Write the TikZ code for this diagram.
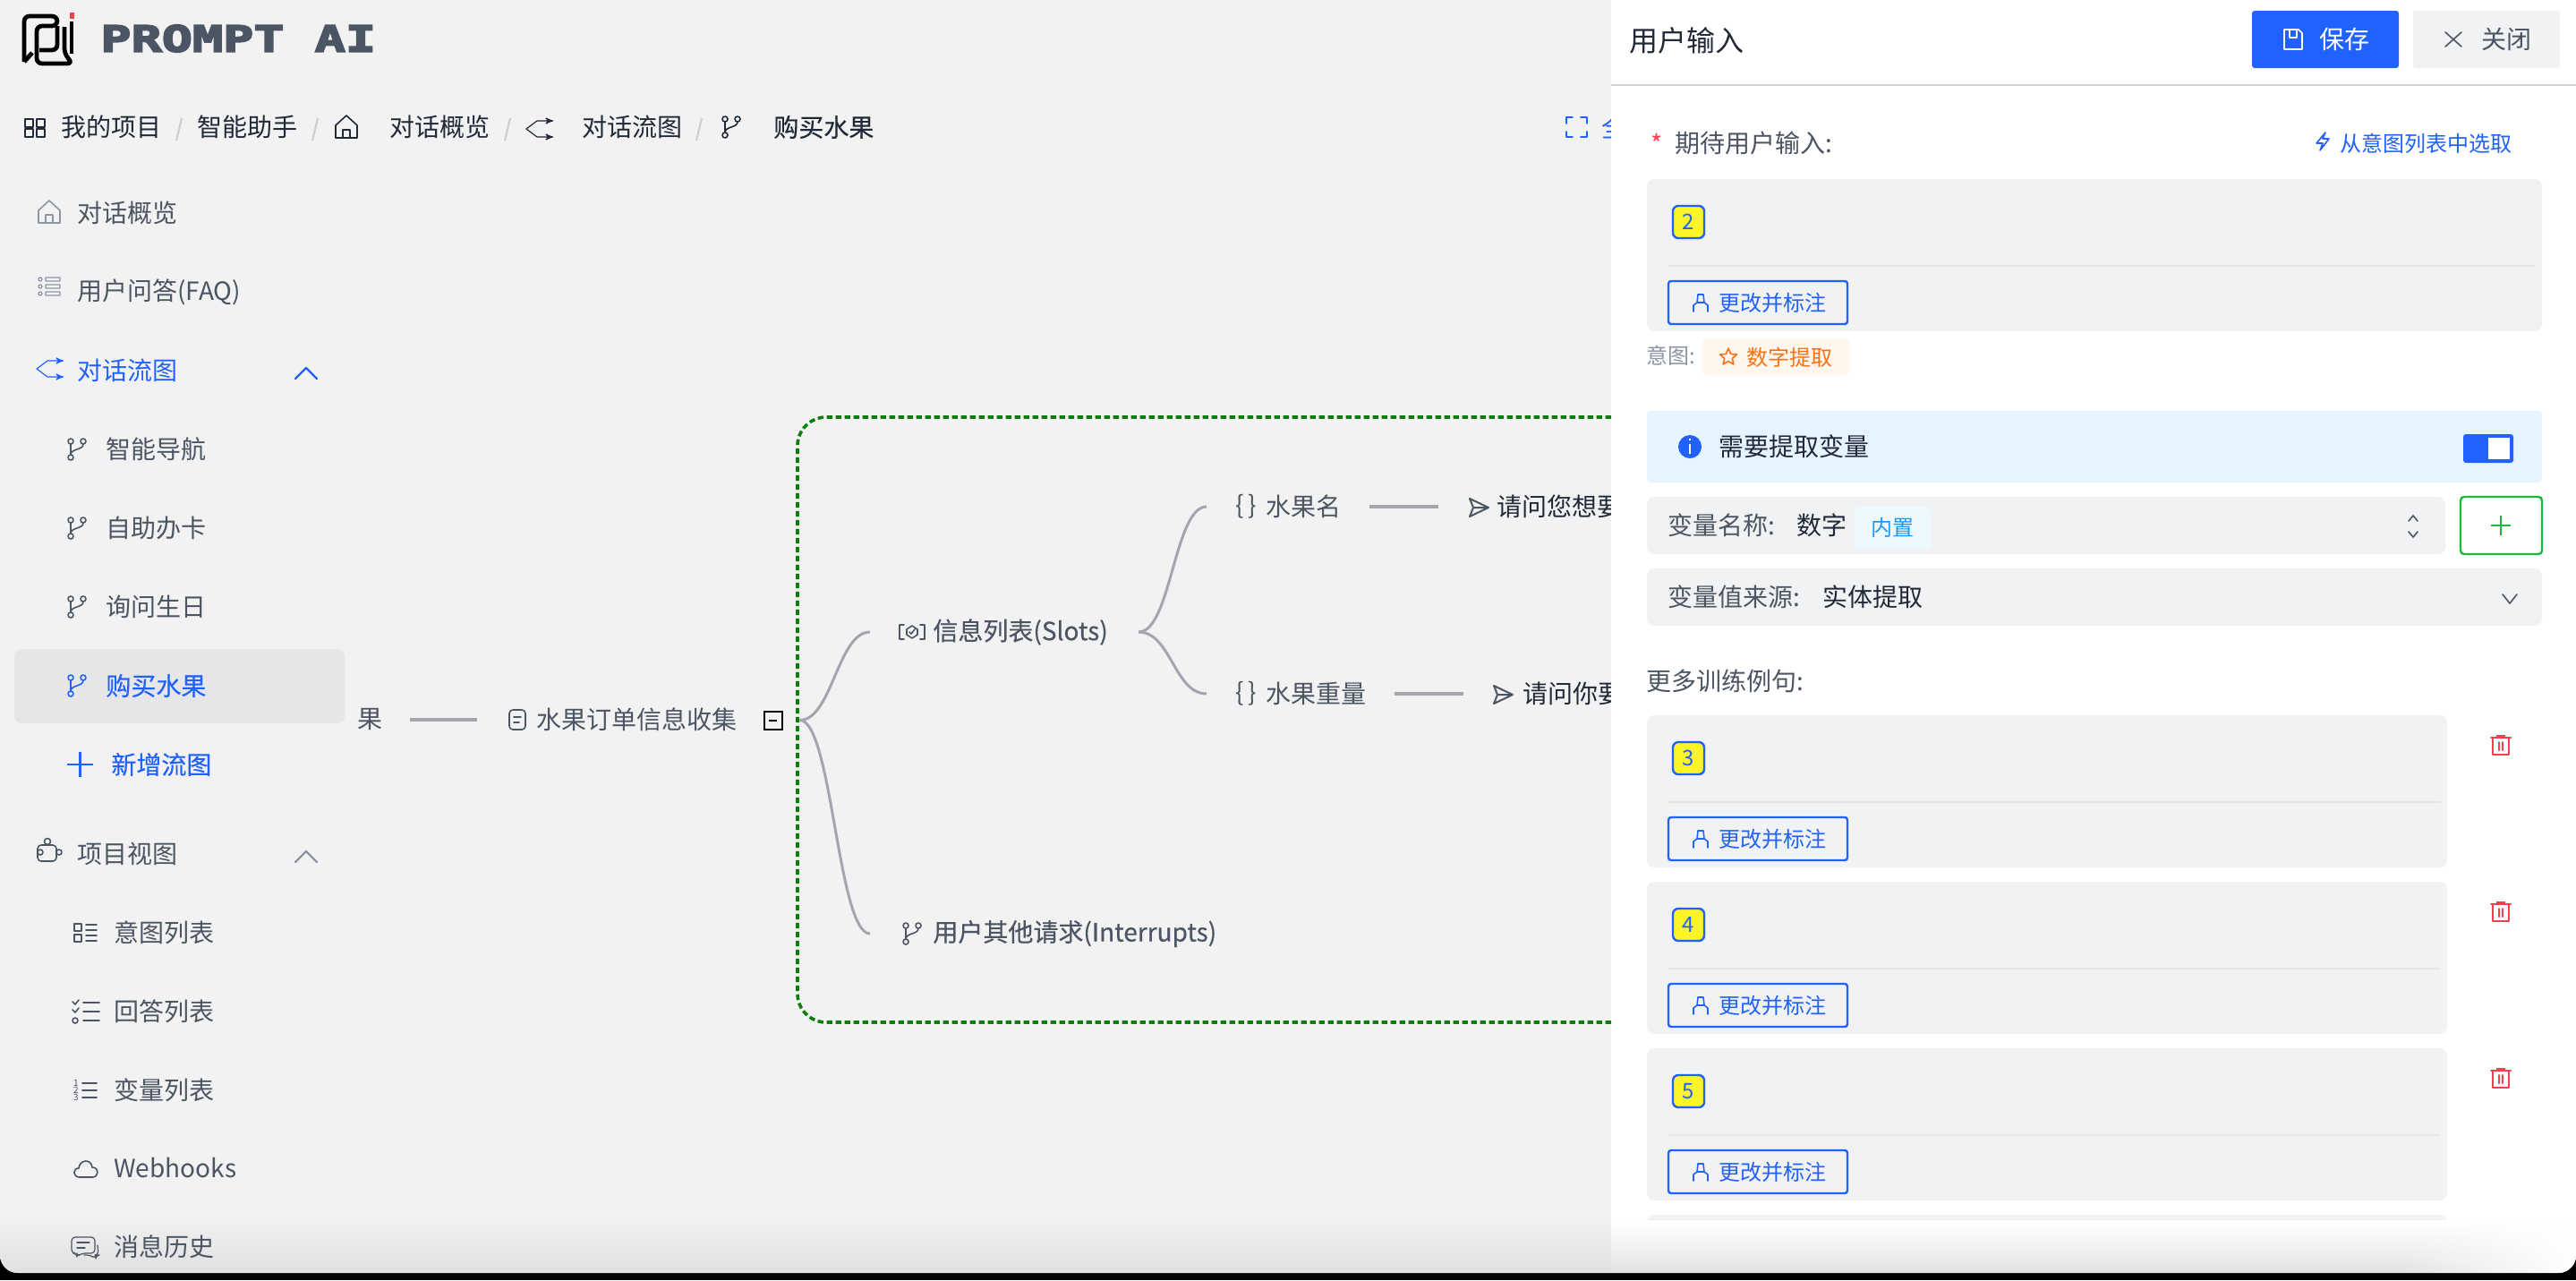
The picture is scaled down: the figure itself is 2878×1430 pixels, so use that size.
\documentclass[tikz,border=0pt]{standalone}
\usepackage{fontspec}
\setmainfont{Noto Sans CJK SC}
\newfontfamily\mediumfont[FakeBold=0.35]{Noto Sans CJK SC}
\newfontfamily\logofont[FakeStretch=1.42, FakeBold=5]{DejaVu Sans Mono Bold}
\usetikzlibrary{arrows, fadings}
\definecolor{inkdark}{HTML}{1F2937}
\definecolor{inkgrey}{HTML}{4B5563}
\definecolor{inkmute}{HTML}{8B95A5}
\definecolor{inkblue}{HTML}{2162FF}
\definecolor{inkred}{HTML}{F43F4E}
\definecolor{inkgreen}{HTML}{1DB83F}
\definecolor{inkorange}{HTML}{F97316}
\definecolor{pagegrey}{HTML}{F2F2F2}
\definecolor{boxgrey}{HTML}{F1F2F4}
\definecolor{selgrey}{HTML}{E6E6E8}
\definecolor{wiregrey}{HTML}{A3A6B0}
\definecolor{dashgreen}{HTML}{0A7D0A}
\tikzfading[name=fadeleft, left color=transparent!100, right color=transparent!0]
\tikzset{
  >=stealth', % small heads on the flow icons
  txt/.style={anchor=west, inner sep=0pt, xshift=-0.5pt, font=\fontsize{14}{16}\selectfont, text=inkgrey},
  smalltxt/.style={txt, font=\fontsize{12}{14}\selectfont},
  medtxt/.style={txt, font=\mediumfont\fontsize{14}{16}\selectfont},
  bluetxt/.style={txt, text=inkblue},
  crumb/.style={txt, text=inkdark},
  icon/.style={line width=0.8pt, line join=round, line cap=round},
  panelbox/.style={fill=boxgrey, rounded corners=4pt},
  rule/.style={line width=1.2pt, draw=#1},
  wire/.style={line width=2pt, draw=wiregrey},
  branch/.style={line width=1.5pt, draw=wiregrey},
  chip/.style={draw=inkblue, line width=1.2pt, fill=yellow!85!white, rounded corners=3pt, text=inkblue,
    inner sep=0pt, minimum width=17.5pt, minimum height=18pt, font=\fontsize{12}{14}\selectfont},
  markbtn/.style={draw=inkblue, line width=1.2pt, rounded corners=1.5pt},
  % icons, drawn round their centre
  pics/gridicon/.style={code={\draw[icon,line width=1pt] (-11,-10) rectangle (-2,-1) (2,-10) rectangle (11,-1) (-11,1) rectangle (-2,10) (2,1) rectangle (11,10);}},
  pics/homeicon/.style={code={\draw[icon] (-12,12) -- (-12,-2) -- (0,-13) -- (12,-2) -- (12,12) -- cycle (-4,12) -- (-4,3) -- (4,3) -- (4,12);}},
  pics/flowicon/.style={code={\draw[icon,line width=0.6pt,->] (-15,0) -- (-3,-9) -- (15,-9); \draw[icon,line width=0.6pt,->] (-15,0) -- (-3,9) -- (15,9);}},
  pics/branchicon/.style={code={\draw[icon] (-7,-9) circle[radius=3] (-7,9) circle[radius=3] (7,-9) circle[radius=3] (-7,-6) -- (-7,6) (7,-6) .. controls (7,1) and (-7,-1) .. (-7,6);}},
  pics/faqicon/.style={code={\draw[icon,line width=0.6pt] (-10,-8) circle[radius=2] (-10,0) circle[radius=2] (-10,8) circle[radius=2]
    (-4,-10) rectangle (12,-6) (-4,-2) rectangle (12,2) (-4,6) rectangle (12,10);}},
  pics/chevup/.style={code={\draw[icon,line width=1.1pt] (-12,6) -- (0,-6) -- (12,6);}},
  pics/puzzleicon/.style={code={\draw[icon,rounded corners=2pt] (-14,-5) rectangle (7,13);
    \draw[icon,fill=pagegrey] (-3,-9) circle[radius=3.5]; \draw[icon,fill=pagegrey] (10,3) circle[radius=3]; \draw[icon,fill=pagegrey] (-11,3) circle[radius=3];}},
  pics/intenticon/.style={code={\draw[icon] (-12,-10) rectangle (-4,-2) (-12,2) rectangle (-4,10) (1,-9) -- (13,-9) (1,-3) -- (13,-3) (1,3) -- (13,3) (1,9) -- (13,9);}},
  pics/checkicon/.style={code={\draw[icon] (-3,-10) -- (15,-10) (-3,0) -- (15,0) (-3,10) -- (15,10) (-15,-11) -- (-12,-8) -- (-8,-13) (-15,-2) -- (-12,1) -- (-8,-4) (-12,10) circle[radius=3];}},
  pics/numicon/.style={code={\draw[icon] (-3,-8) -- (13,-8) (-3,0) -- (13,0) (-3,8) -- (13,8);
    \node[inner sep=0pt, font=\fontsize{5}{5}\selectfont, text=inkgrey, align=center] (numstack) at (-10,0) {1\\[-1pt]2\\[-1pt]3};}},
  pics/cloudicon/.style={code={\draw[icon] (-7,9) .. controls (-15,9) and (-15,-1) .. (-8,-1) .. controls (-7,-11) and (6,-12) .. (7,-2) .. controls (15,-2) and (15,9) .. (7,9) -- cycle;}},
  pics/chaticon/.style={code={\draw[icon,rounded corners=2pt,line width=0.6pt] (-15,-12) -- (11,-12) -- (11,6) -- (-4,6) -- (-9,10) -- (-9,6) -- (-15,6) -- cycle (14,-3) -- (15,8) -- (12,8) -- (12,12) -- (6,8) -- (-1,8);
    \draw[icon,line width=0.6pt] (-9,-6) -- (5,-6) (-9,0) -- (0,0);}},
  pics/docicon/.style={code={\draw[icon,rounded corners=2pt] (-9,-11) rectangle (9,11); \draw[icon] (-4,-3) -- (4,-3) (-4,3) -- (2,3);}},
  pics/sloticon/.style={code={\draw[icon] (-9,-8) -- (-14,-8) -- (-14,8) -- (-9,8) (9,-8) -- (14,-8) -- (14,8) -- (9,8) (-6,-3) -- (0,-7) -- (6,-3) -- (6,3) -- (0,7) -- (-6,3) -- cycle (-3,0) -- (-1,2) -- (3,-3);}},
  pics/sendicon/.style={code={\draw[icon,line width=1pt] (-10,-10) -- (11,0) -- (-10,10) -- (-6,0) -- cycle (-6,0) -- (11,0);}},
  pics/saveicon/.style={code={\draw[icon] (-10,-11) -- (6,-11) -- (10,-7) -- (10,11) -- (-10,11) -- cycle (-4,-11) -- (-4,-2) -- (4,-2) -- (4,-11);}},
  pics/closeicon/.style={code={\draw[icon] (-9,-8) -- (9,8) (-9,8) -- (9,-8);}},
  pics/bolticon/.style={code={\draw[icon] (3,-10) -- (-7,2) -- (0,2) -- (-3,10) -- (7,-3) -- (0,-3) -- cycle;}},
  pics/penicon/.style={code={\draw[icon] (-8,10) -- (-8,3) -- (-4,0) -- (-3,-9) -- (3,-9) -- (4,0) -- (8,3) -- (8,10) (-4,0) -- (4,0);}},
  pics/staricon/.style={code={\draw[icon] (0,-10) -- (2.6,-3.6) -- (9.5,-3) -- (4.3,1.4) -- (5.9,8) -- (0,4.5) -- (-5.9,8) -- (-4.3,1.4) -- (-9.5,-3) -- (-2.6,-3.6) -- cycle;}},
  pics/trashicon/.style={code={\draw[icon,line width=1pt] (-11,-8) -- (11,-8) (-9,-8) -- (-9,11) -- (9,11) -- (9,-8) (-2,-3) -- (-2,6) (2,-3) -- (2,6);
    \fill (-5,-11) rectangle (5,-8);}},
  % one training sentence: number, width of the box
  pics/sentence/.style 2 args={code={
    \fill[panelbox] (0,0) rectangle (#2,170);
    \node[chip] (num) at (46.5,48) {#1};
    \draw[rule=black!10] (24,97) -- (#2-8,97);
    \draw[markbtn] (24,114) rectangle (224,162);
    \pic[color=inkblue] at (60,138) {penicon};
    \node[smalltxt, text=inkblue] (mark) at (81,138) {更改并标注};
  }},
}
\begin{document}
\begin{tikzpicture}[x=0.5pt, y=-0.5pt]
  \useasboundingbox (0,0) rectangle (2878,1430);
  \fill[black] (0,0) rectangle (2878,1430);

  \begin{scope}
  \clip (0,0) -- (2878,0) [rounded corners=10pt] -- (2878,1422) -- (0,1422) [sharp corners] -- cycle;
  \fill[pagegrey] (0,0) rectangle (1800,1422);
  \shade[top color=pagegrey, bottom color=black!12] (0,1356) rectangle (1800,1422);
  \draw[rule=black!6] (0,95) -- (1800,95);
  \draw[rule=black!6] (0,189) -- (1800,189);

  % Logo
  \draw[line width=2.4pt, rounded corners=3pt] (27,69) -- (27,18) -- (64,18) -- (64,29) -- (41,29) -- (41,71) -- (81,71) -- (72,60) -- (72,30);
  \draw[line width=2.4pt, rounded corners=3pt] (27,69) -- (36,59);
  \draw[line width=2.4pt, rounded corners=3pt] (64,29) -- (64,56) -- (44,56);
  \draw[line width=2pt] (80,24) -- (80,60);
  \fill[inkred] (78,14) rectangle (83,21);
  \node[txt, text=inkgrey, font=\logofont\fontsize{20}{22}\selectfont] (logo) at (113,43) {PROMPT AI};

  % Breadcrumb
  \pic[color=inkdark] at (38.5,142.5) {gridicon};
  \node[crumb] (crumbprojects) at (69,142) {我的项目};
  \node[crumb] (crumbhelper) at (221,142) {智能助手};
  \pic[color=inkdark] at (387,142) {homeicon};
  \node[crumb] (crumboverview) at (436,142) {对话概览};
  \pic[color=inkdark] at (603,144) {flowicon};
  \node[crumb] (crumbflow) at (651,142) {对话流图};
  \pic[color=inkdark] at (817,142) {branchicon};
  \node[crumb, font=\mediumfont\fontsize{14}{16}\selectfont] (crumbfruit) at (865,142) {购买水果};
  \draw[line width=1pt, black!20] (203,132) -- (197,157) (355,132) -- (349,157) (570,132) -- (564,157) (784,132) -- (778,157);
  \draw[icon, inkblue] (1750,138) -- (1750,131) -- (1757,131) (1766,131) -- (1773,131) -- (1773,138) (1773,147) -- (1773,153) -- (1766,153) (1757,153) -- (1750,153) -- (1750,147);
  \node[bluetxt] (crumbfull) at (1790,142) {全};

  % Sidebar
  \fill[selgrey, rounded corners=4pt] (16,725) rectangle (385,808);
  \pic[color=inkmute] at (55,237) {homeicon};
  \node[txt] (menuoverview) at (87,238) {对话概览};
  \pic[color=inkmute] at (55,320) {faqicon};
  \node[txt] (menufaq) at (87,326) {用户问答(FAQ)};
  \pic[color=inkblue] at (56,412) {flowicon};
  \node[bluetxt] (menuflow) at (87,414) {对话流图};
  \pic[color=inkblue] at (342,417) {chevup};
  \pic[color=inkgrey] at (86,502) {branchicon};
  \node[txt] (menunav) at (119,502) {智能导航};
  \pic[color=inkgrey] at (86,590) {branchicon};
  \node[txt] (menucard) at (119,590) {自助办卡};
  \pic[color=inkgrey] at (86,678) {branchicon};
  \node[txt] (menubirth) at (119,678) {询问生日};
  \pic[color=inkblue] at (86,766) {branchicon};
  \node[medtxt, text=inkblue] (menufruit) at (119,766) {购买水果};
  \draw[inkblue, line width=1.4pt] (75,854) -- (104,854) (89.5,840) -- (89.5,868);
  \node[medtxt, text=inkblue] (menuadd) at (125,854) {新增流图};
  \pic[color=inkgrey] at (56,949) {puzzleicon};
  \node[txt] (menuview) at (87,954) {项目视图};
  \pic[color=inkmute] at (342,957) {chevup};
  \pic[color=inkgrey] at (95,1042) {intenticon};
  \node[txt] (menuintent) at (128,1042) {意图列表};
  \pic[color=inkgrey] at (96,1130) {checkicon};
  \node[txt] (menuanswer) at (128,1130) {回答列表};
  \pic[color=inkgrey] at (95,1218) {numicon};
  \node[txt] (menuvar) at (128,1218) {变量列表};
  \pic[color=inkgrey] at (96,1306) {cloudicon};
  \node[txt] (menuhook) at (128,1305) {Webhooks};
  \pic[color=inkgrey] at (95,1394) {chaticon};
  \node[txt] (menulog) at (128,1393) {消息历史};

  % Mind map
  \draw[dashgreen, line width=1.8pt, dash pattern=on 3.2pt off 1.8pt, rounded corners=16pt] (1950,466) -- (891,466) -- (891,1142) -- (1950,1142);
  \node[txt] (fruit) at (400,804) {果};
  \pic[color=inkgrey] at (578,804) {docicon};
  \node[txt] (orders) at (600,804) {水果订单信息收集};
  \node[draw=black, line width=1pt, fill=pagegrey, inner sep=0pt, minimum size=10pt] (minus) at (863.5,804.5) {};
  \draw[black, line width=1pt] (859,804.5) -- (868,804.5);
  \pic[color=inkgrey] at (1019,706) {sloticon};
  \node[medtxt] (slots) at (1043,706) {信息列表(Slots)};
  \pic[color=inkgrey] at (1019,1043) {branchicon};
  \node[medtxt] (interrupts) at (1043,1043) {用户其他请求(Interrupts)};
  \node[txt] (namebrace) at (1381,566) {\{\,\}};
  \node[txt] (slotname) at (1415,566) {水果名};
  \pic[color=inkgrey] at (1652,567) {sendicon};
  \node[txt, text=inkdark] (askname) at (1673,566) {请问您想要};
  \node[txt] (weightbrace) at (1381,775) {\{\,\}};
  \node[txt] (slotweight) at (1415,775) {水果重量};
  \pic[color=inkgrey] at (1679,776) {sendicon};
  \node[txt, text=inkdark] (askweight) at (1702,775) {请问你要};

  % Connectors
  \path[wire]
    ([xshift=15pt]fruit.east) edge ([xshift=-33pt]orders.west)
    ([xshift=15.5pt]slotname.east) edge ([xshift=-32.5pt]askname.west)
    ([xshift=15.5pt]slotweight.east) edge ([xshift=-33pt]askweight.west);
  \draw[branch] ([xshift=9.5pt]minus.east) .. controls +(36,0) and +(-36,0) .. ([xshift=-35pt]slots.west);
  \draw[branch] ([xshift=9.5pt]minus.east) .. controls +(36,0) and +(-36,0) .. ([xshift=-35pt]interrupts.west);
  \draw[branch] ([xshift=17pt]slots.east) .. controls +(36,0) and +(-36,0) .. ([xshift=-33pt]slotname.west);
  \draw[branch] ([xshift=17pt]slots.east) .. controls +(36,0) and +(-36,0) .. ([xshift=-33pt]slotweight.west);

  % Right panel
  \fill[white] (1800,0) rectangle (2878,1422);
  \draw[rule=black!18] (1800,95) -- (2878,95);
  \node[txt, text=inkdark, font=\fontsize{16}{18}\selectfont] (paneltitle) at (1821,45) {用户输入};
  \fill[inkblue, rounded corners=1.5pt] (2516,12) rectangle (2680,76);
  \pic[color=white] at (2562,44) {saveicon};
  \node[txt, text=white] (savetext) at (2592,44) {保存};
  \fill[boxgrey, rounded corners=1.5pt] (2696,12) rectangle (2860,76);
  \pic[color=inkgrey] at (2741,44) {closeicon};
  \node[txt] (closetext) at (2773,44) {关闭};

  % Expected input
  \node[txt, text=inkred] (required) at (1845,160) {*};
  \node[txt] (expect) at (1872,160) {期待用户输入:};
  \pic[color=inkblue] at (2595,158) {bolticon};
  \node[smalltxt, text=inkblue] (pick) at (2615,160) {从意图列表中选取};
  \pic (first) at (1840,200) {sentence={2}{1000}};
  \node[smalltxt, text=inkmute] (intentlabel) at (1840,397) {意图:};
  \fill[orange!7, rounded corners=2pt] (1902,379) rectangle (2066,419);
  \pic[color=inkorange] at (1931,399) {staricon};
  \node[smalltxt, text=inkorange] (intenttag) at (1952,399) {数字提取};

  % Variable
  \fill[blue!45!cyan!10, rounded corners=2pt] (1840,459) rectangle (2840,539);
  \fill[inkblue] (1888,499) circle[radius=13];
  \draw[white, line width=1pt] (1888,496) -- (1888,507) (1888,490) -- (1888,492);
  \node[txt, text=inkdark] (needvar) at (1921,499) {需要提取变量};
  \fill[inkblue, rounded corners=1.5pt] (2752,485) rectangle (2808,517);
  \fill[white] (2780,489) rectangle (2804,513);
  \fill[panelbox] (1840,555) rectangle (2732,619);
  \node[txt] (varname) at (1864,587) {变量名称:};
  \node[txt, text=inkdark] (varvalue) at (2008,587) {数字};
  \fill[cyan!7, rounded corners=2pt] (2072,566) rectangle (2157,613);
  \node[smalltxt, text=blue!45!cyan!90] (builtin) at (2091,589) {内置};
  \draw[icon, inkgrey] (2691,582) -- (2696,576) -- (2701,582) (2691,594) -- (2696,600) -- (2701,594);
  \draw[line width=1.2pt, inkgreen, fill=white, rounded corners=2pt] (2749,555) rectangle (2840,619);
  \draw[inkgreen, line width=1pt] (2783,587) -- (2805,587) (2794,576) -- (2794,598);
  \fill[panelbox] (1840,635) rectangle (2840,699);
  \node[txt] (varsource) at (1864,667) {变量值来源:};
  \node[txt, text=inkdark] (varentity) at (2037,667) {实体提取};
  \draw[icon, inkgrey] (2796,664) -- (2804,674) -- (2812,664);

  % More sentences
  \node[txt] (moretrain) at (1840,761) {更多训练例句:};
  \pic (s3) at (1840,799) {sentence={3}{894}};
  \pic[color=inkred] at (2794,832) {trashicon};
  \pic (s4) at (1840,985) {sentence={4}{894}};
  \pic[color=inkred] at (2794,1018) {trashicon};
  \pic (s5) at (1840,1171) {sentence={5}{894}};
  \pic[color=inkred] at (2794,1204) {trashicon};
  \fill[panelbox] (1840,1357) rectangle (2734,1400);

  % Fade at the bottom of the panel
  \shade[top color=white, bottom color=black!11] (1800,1363) rectangle (2878,1422);
  \fill[white, path fading=fadeleft] (2680,1363) rectangle (2878,1422);
  \end{scope}
\end{tikzpicture}
\end{document}
